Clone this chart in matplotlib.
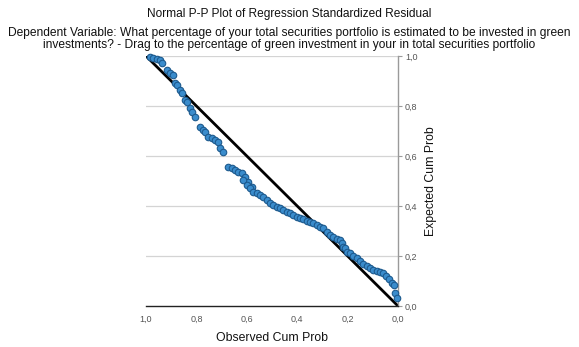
import matplotlib
matplotlib.use("Agg")
import matplotlib.pyplot as plt
from matplotlib.ticker import FuncFormatter

plt.rcParams['font.family'] = ['Liberation Sans', 'DejaVu Sans']

title = "Normal P-P Plot of Regression Standardized Residual"
subtitle = ("Dependent Variable: What percentage of your total securities portfolio is estimated to be invested in green\n"
            "investments? - Drag to the percentage of green investment in your in total securities portfolio")
xlabel = "Observed Cum Prob"
ylabel = "Expected Cum Prob"
ticks = [0.0, 0.2, 0.4, 0.6, 0.8, 1.0]

observed = [0.984, 0.972, 0.956, 0.944, 0.937, 0.917, 0.905, 0.893, 0.885, 0.877,
            0.865, 0.857, 0.845, 0.837, 0.825, 0.817, 0.806,
            0.786, 0.774, 0.766, 0.754, 0.738, 0.726, 0.714, 0.706, 0.694,
            0.675, 0.659, 0.647, 0.635, 0.619, 0.607, 0.595, 0.579,
            0.615, 0.599, 0.587, 0.575, 0.560, 0.548, 0.536, 0.520, 0.508, 0.496,
            0.480, 0.468, 0.456, 0.440, 0.429, 0.417, 0.401, 0.389, 0.377, 0.361,
            0.349, 0.337, 0.321, 0.310, 0.298, 0.282,
            0.270, 0.258, 0.242, 0.230, 0.222, 0.218, 0.210, 0.202, 0.190, 0.179,
            0.163, 0.151, 0.139, 0.123, 0.111, 0.099, 0.083, 0.071, 0.060, 0.048,
            0.036, 0.024, 0.016, 0.012, 0.004]
expected = [0.996, 0.992, 0.988, 0.984, 0.972, 0.944, 0.932, 0.924, 0.892, 0.884,
            0.864, 0.852, 0.824, 0.816, 0.792, 0.776, 0.756,
            0.716, 0.704, 0.696, 0.676, 0.672, 0.664, 0.656, 0.632, 0.616,
            0.556, 0.552, 0.544, 0.536, 0.532, 0.516, 0.496, 0.476,
            0.504, 0.484, 0.472, 0.456, 0.452, 0.444, 0.436, 0.424, 0.412, 0.404,
            0.396, 0.392, 0.384, 0.376, 0.372, 0.364, 0.356, 0.352, 0.348, 0.340,
            0.336, 0.332, 0.324, 0.316, 0.312, 0.296,
            0.284, 0.276, 0.268, 0.264, 0.252, 0.236, 0.232, 0.216, 0.212, 0.200,
            0.192, 0.180, 0.168, 0.160, 0.152, 0.144, 0.140, 0.136, 0.132, 0.120,
            0.108, 0.092, 0.084, 0.052, 0.032]

fig = plt.figure(figsize=(5.79, 3.47), dpi=100)
ax = fig.add_axes([146/579, 41/347, 252/579, 250/347])

ax.set_xlim(1.0, 0.0)
ax.set_ylim(0.0, 1.0)
ax.set_xticks(ticks)
ax.set_yticks(ticks)
fmt = FuncFormatter(lambda v, p: f"{v:.1f}".replace('.', ','))
ax.xaxis.set_major_formatter(fmt)
ax.yaxis.set_major_formatter(fmt)
ax.yaxis.tick_right()
ax.yaxis.set_label_position('right')

for t in ticks[1:]:
    ax.axhline(t, color='#d4d4d4', lw=0.9, zorder=0)

for s in ['top', 'left']:
    ax.spines[s].set_visible(False)
ax.spines['bottom'].set_color('#222222')
ax.spines['bottom'].set_linewidth(1.0)
ax.spines['right'].set_color('#9a9a9a')
ax.spines['right'].set_linewidth(1.0)

ax.tick_params(axis='x', length=0, pad=6, labelsize=6.5, labelcolor='#555555')
ax.tick_params(axis='y', length=3, width=0.8, color='#9a9a9a', pad=2,
               labelsize=6.5, labelcolor='#555555')

ax.plot([0, 1], [0, 1], color='black', lw=2, zorder=2)
ax.scatter(observed, expected, s=22, facecolor='#3a8ccc', edgecolor='#1d5a8e',
           linewidth=0.8, zorder=3, clip_on=False)

ax.set_xlabel(xlabel, fontsize=8.8, labelpad=6, color='#111111')
ax.set_ylabel(ylabel, fontsize=8.8, labelpad=5, color='#111111')

fig.text(0.5, 1 - 14/347, title, ha='center', va='center', fontsize=8.6, color='#111111')
fig.text(0.5, 1 - 39/347, subtitle, ha='center', va='center', fontsize=8.65,
         linespacing=0.95, color='#111111')

fig.savefig("out.png", dpi=100)
